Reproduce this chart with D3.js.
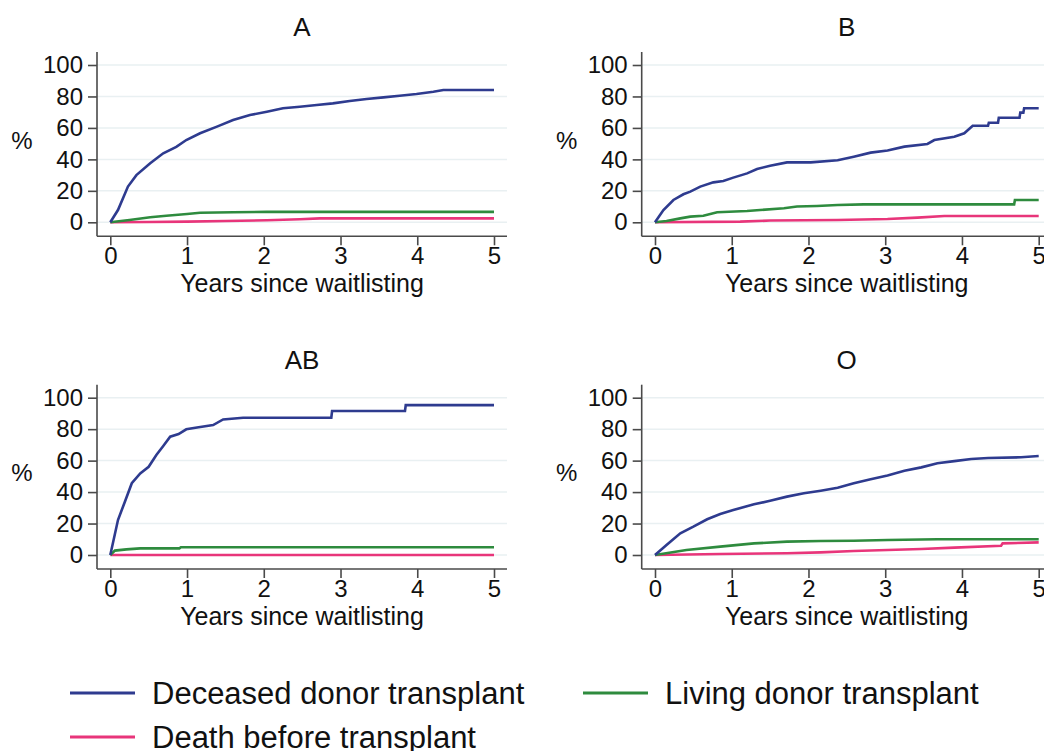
<!DOCTYPE html>
<html>
<head>
<meta charset="utf-8">
<script src="https://cdn.jsdelivr.net/npm/d3@7"></script>
<style>
  html, body { margin: 0; padding: 0; background: #fff; }
  svg { display: block; font-family: "Liberation Sans", Arial, sans-serif; }
</style>
</head>
<body>
<svg id="chart" width="1044" height="751"></svg>
<script>
// ---- Data (years since waitlisting, cumulative incidence %) ----
const panelTitles = ["A", "B", "AB", "O"];
const seriesNames = ["Deceased donor transplant", "Living donor transplant", "Death before transplant"];
const xTicks = [0, 1, 2, 3, 4, 5];
const yTicks = [0, 20, 40, 60, 80, 100];

const A_deceased = [[0,0],[0.1,7.8],[0.23,22.7],[0.34,30],[0.52,37.5],[0.69,43.9],[0.86,48],[0.99,52.3],[1.17,56.6],[1.39,60.8],[1.6,65],[1.82,68.2],[2.04,70.3],[2.25,72.5],[2.47,73.5],[2.69,74.6],[2.9,75.6],[3.12,77.1],[3.34,78.4],[3.56,79.4],[3.77,80.5],[3.99,81.6],[4.21,83],[4.34,84.1],[5,84.1]];
const A_living = [[0,0],[0.25,1.5],[0.52,3.2],[0.73,4.2],[1,5.3],[1.17,6.1],[1.6,6.4],[2.04,6.6],[5,6.6]];
const A_death = [[0,0],[0.5,0.2],[1,0.4],[1.5,0.8],[2.04,1.3],[2.47,1.9],[2.73,2.5],[5,2.5]];

const B_deceased = [[0,0],[0.11,7.8],[0.24,14.2],[0.37,17.8],[0.46,19.5],[0.59,22.7],[0.76,25.4],[0.89,26.3],[1.02,28.4],[1.2,31.1],[1.33,33.9],[1.5,36],[1.72,38.1],[2.03,38.1],[2.38,39.4],[2.59,41.7],[2.81,44.3],[3.03,45.6],[3.25,48.1],[3.55,49.8],[3.64,52.3],[3.9,54.4],[4.03,56.6],[4.14,61.4],[4.34,61.4],[4.35,63.3],[4.47,63.3],[4.48,66.5],[4.75,66.5],[4.76,69.7],[4.8,69.7],[4.81,72.5],[5,72.5]];
const B_living = [[0,0],[0.15,0.8],[0.33,2.5],[0.46,3.6],[0.63,4.2],[0.81,6.4],[1.2,7.2],[1.37,7.8],[1.68,8.9],[1.85,10],[2.11,10.4],[2.38,11],[2.72,11.4],[4.68,11.4],[4.69,14.2],[5,14.2]];
const B_death = [[0,0],[1.11,0.4],[1.5,1.1],[2.38,1.5],[3.03,2.1],[3.42,3],[3.77,4],[5,4]];

const AB_deceased = [[0,0],[0.1,22.2],[0.19,33.9],[0.28,45.6],[0.39,51.9],[0.5,56.1],[0.6,63.6],[0.69,69.3],[0.78,75.2],[0.89,76.9],[0.99,79.9],[1.13,81.1],[1.34,82.6],[1.47,86.2],[1.73,87.3],[2.88,87.3],[2.89,91.5],[3.84,91.5],[3.85,95.3],[5,95.3]];
const AB_living = [[0,0],[0.06,2.8],[0.21,3.6],[0.39,4.2],[0.9,4.2],[0.92,4.9],[5,4.9]];
const AB_death = [[0,0],[5,0]];

const O_deceased = [[0,0],[0.15,6.4],[0.33,13.8],[0.5,18],[0.68,22.7],[0.85,26.1],[1.02,28.6],[1.29,32.2],[1.5,34.5],[1.72,37.1],[1.94,39.2],[2.16,40.9],[2.38,42.8],[2.59,45.6],[2.81,48.1],[3.03,50.6],[3.25,53.6],[3.47,55.7],[3.68,58.3],[3.9,59.7],[4.12,61],[4.34,61.7],[4.77,62.1],[5,62.9]];
const O_living = [[0,0],[0.41,3.2],[0.85,5.3],[1.29,7.4],[1.72,8.5],[2.16,8.9],[2.59,9.1],[3.03,9.5],[3.68,10],[5,10]];
const O_death = [[0,0],[0.85,0.6],[1.72,1.1],[2.16,1.7],[2.59,2.5],[3.03,3.2],[3.47,3.8],[3.9,4.7],[4.51,5.9],[4.53,7.4],[5,8]];

const panelData = [
  [A_deceased, A_living, A_death],
  [B_deceased, B_living, B_death],
  [AB_deceased, AB_living, AB_death],
  [O_deceased, O_living, O_death]
];

// ---- Styles ----
const colors = ["#2e3b8f", "#2e8b3e", "#e8357a"];
const gridColor = "#e9f0f2";
const axisColor = "#4a4a4a";

const svg = d3.select("#chart");

// Panel layout (left column / right column, top row / bottom row)
const colX = [110.3, 655];     // pixel of x=0
const plotW = 383.7;           // x=0 to x=5
const rowY0 = [222.3, 555];    // pixel of y=0
const plotH = 157.3;           // y=0 to y=100

panelTitles.forEach((title, i) => {
  const col = i % 2, row = Math.floor(i / 2);
  const x = d3.scaleLinear().domain([0, 5]).range([colX[col], colX[col] + plotW]);
  const y = d3.scaleLinear().domain([0, 100]).range([rowY0[row], rowY0[row] - plotH]);
  const axisLeft = x(0) - 13.3;
  const axisRight = x(5) + 13;
  const axisBottom = y(0) + 14;
  const axisTop = y(100) - 13;

  const g = svg.append("g");

  // gridlines
  g.selectAll("line.grid").data(yTicks).join("line")
    .attr("x1", axisLeft).attr("x2", axisRight)
    .attr("y1", d => y(d)).attr("y2", d => y(d))
    .attr("stroke", gridColor).attr("stroke-width", 1.5);

  // y axis
  const yAxis = d3.axisLeft(y).tickValues(yTicks).tickSize(9).tickPadding(5).tickFormat(d3.format("d"));
  const ya = g.append("g").attr("transform", `translate(${axisLeft},0)`).call(yAxis);
  ya.select(".domain").remove();
  ya.append("line").attr("x1", 0).attr("x2", 0).attr("y1", axisTop).attr("y2", axisBottom)
    .attr("stroke", axisColor).attr("stroke-width", 1.6);

  // x axis
  const xAxis = d3.axisBottom(x).tickValues(xTicks).tickSize(9).tickPadding(2).tickFormat(d3.format("d"));
  const xa = g.append("g").attr("transform", `translate(0,${axisBottom})`).call(xAxis);
  xa.select(".domain").remove();
  xa.append("line").attr("x1", axisLeft).attr("x2", axisRight).attr("y1", 0).attr("y2", 0)
    .attr("stroke", axisColor).attr("stroke-width", 1.6);

  [ya, xa].forEach(a => {
    a.selectAll(".tick line").attr("stroke", axisColor).attr("stroke-width", 1.6);
    a.selectAll(".tick text").attr("fill", "#111").style("font-size", "24px")
      .style("font-family", '"Liberation Sans", Arial, sans-serif');
  });

  // titles
  g.append("text").attr("x", (axisLeft + axisRight) / 2).attr("y", y(100) - 29)
    .attr("text-anchor", "middle").attr("fill", "#111").style("font-size", "26px").text(title);
  g.append("text").attr("x", (axisLeft + axisRight) / 2).attr("y", axisBottom + 56)
    .attr("text-anchor", "middle").attr("fill", "#111").style("font-size", "25px").text("Years since waitlisting");
  g.append("text").attr("x", axisLeft - 75).attr("y", (y(0) + y(100)) / 2 + 5)
    .attr("text-anchor", "middle").attr("fill", "#111").style("font-size", "24px").text("%");

  // series lines (death drawn first, deceased on top)
  const line = d3.line().x(d => x(d[0])).y(d => y(d[1]));
  [2, 1, 0].forEach(s => {
    g.append("path").datum(panelData[i][s])
      .attr("fill", "none").attr("stroke", colors[s]).attr("stroke-width", 2.6)
      .attr("stroke-linejoin", "miter").attr("d", line);
  });
});

// ---- Legend ----
const legendItems = [
  { name: seriesNames[0], color: colors[0], x: 70, y: 693 },
  { name: seriesNames[1], color: colors[1], x: 583, y: 693 },
  { name: seriesNames[2], color: colors[2], x: 70, y: 737 }
];
const lg = svg.append("g");
lg.selectAll("line").data(legendItems).join("line")
  .attr("x1", d => d.x).attr("x2", d => d.x + 65)
  .attr("y1", d => d.y).attr("y2", d => d.y)
  .attr("stroke", d => d.color).attr("stroke-width", 3.2);
lg.selectAll("text").data(legendItems).join("text")
  .attr("x", d => d.x + 82).attr("y", d => d.y + 11)
  .attr("fill", "#111").style("font-size", "31px").text(d => d.name);
</script>
</body>
</html>
